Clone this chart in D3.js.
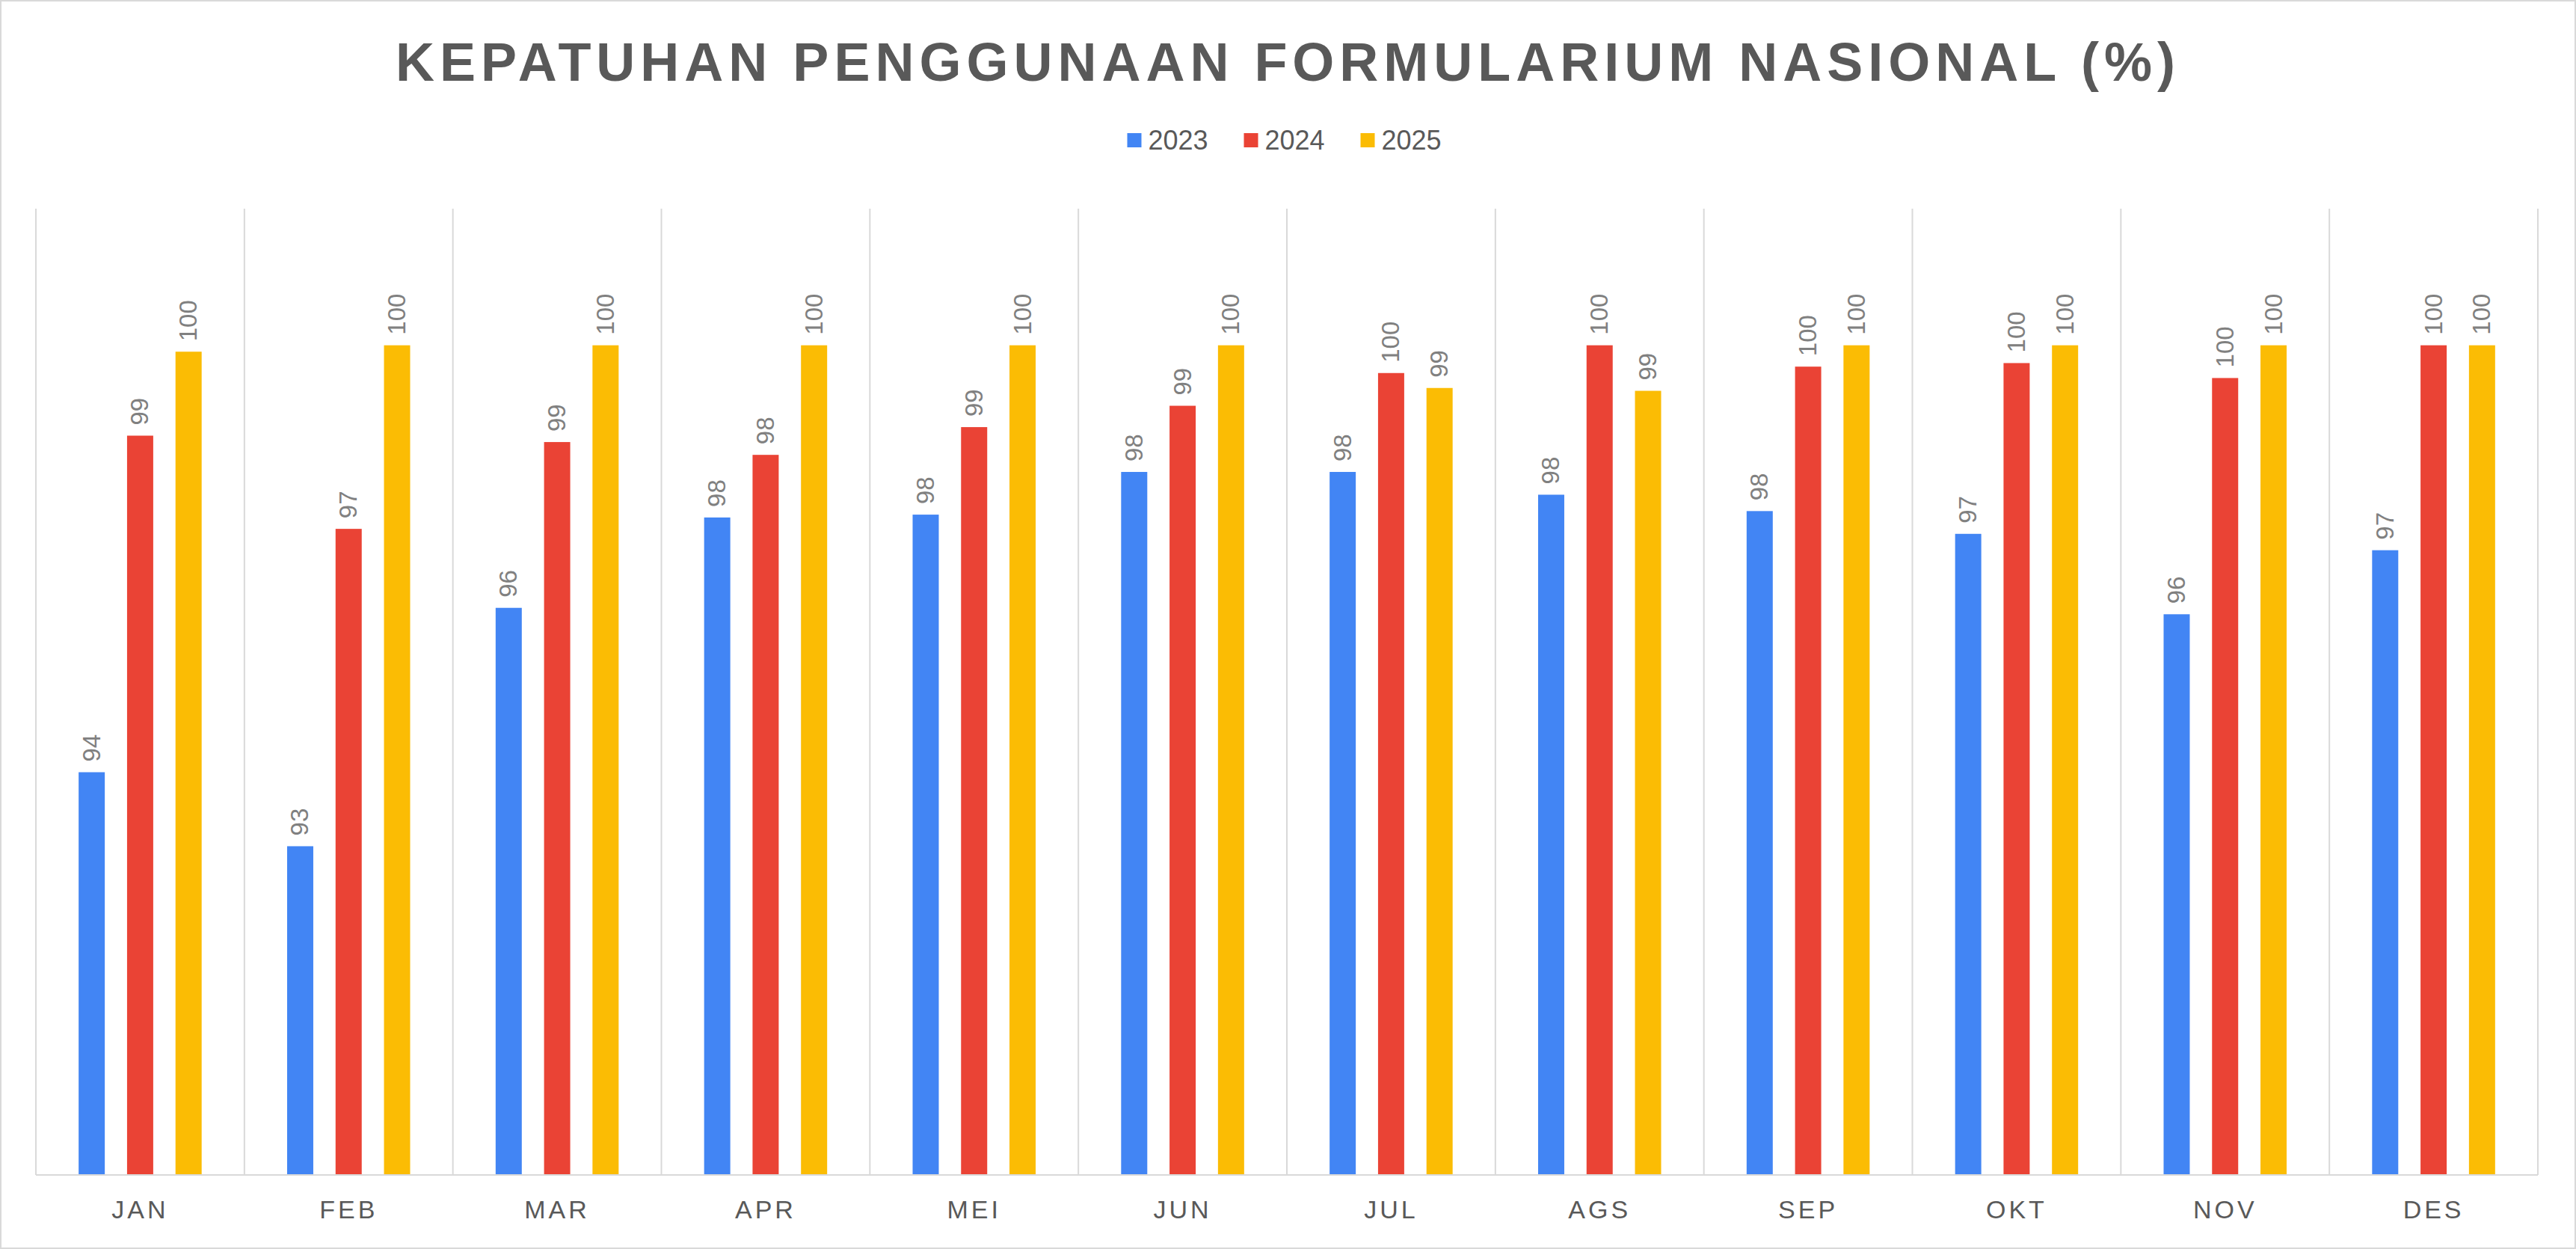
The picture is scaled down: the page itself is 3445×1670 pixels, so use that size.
<!DOCTYPE html>
<html><head><meta charset="utf-8">
<script src="https://cdn.jsdelivr.net/npm/d3@7"></script>
<style>body{margin:0;background:#fff}svg{display:block;font-family:Arial,"Liberation Sans",sans-serif}</style>
</head><body><svg id="chart"></svg>
<script>
const months = ["JAN","FEB","MAR","APR","MEI","JUN","JUL","AGS","SEP","OKT","NOV","DES"];
const years = ["2023","2024","2025"];
const v2023 = [94.0,92.96,96.31,97.58,97.62,98.22,98.22,97.9,97.67,97.35,96.22,97.12];
const v2024 = [98.73,97.42,98.64,98.46,98.85,99.15,99.61,100,99.7,99.75,99.54,100];
const v2025 = [99.91,100,100,100,100,100,99.4,99.36,100,100,100,100];
const colors = ["#4285F4","#EA4335","#FBBC04"];

const W = 3445, H = 1670;
const m = {left: 48, right: 51, top: 279, bottom: 99};
const svg = d3.select("#chart").attr("width", W).attr("height", H);
svg.append("rect").attr("x",1).attr("y",1).attr("width",W-2).attr("height",H-2)
  .attr("fill","#fff").attr("stroke","#d9d9d9").attr("stroke-width",2);

const x = d3.scaleBand().domain(months).range([m.left, W - m.right]);
const xi = d3.scaleBand().domain(years).range([x.bandwidth()*0.205, x.bandwidth()*0.795]).paddingInner(0.46);
const y = d3.scaleLinear().domain([88.34, 101.92]).range([H - m.bottom, m.top]);

// vertical gridlines
svg.append("g").selectAll("line").data(d3.range(months.length + 1)).join("line")
  .attr("x1", i => m.left + i * x.step()).attr("x2", i => m.left + i * x.step())
  .attr("y1", m.top).attr("y2", H - m.bottom)
  .attr("stroke", "#d9d9d9").attr("stroke-width", 2);

const series = [v2023, v2024, v2025];
const data = months.flatMap((mo, i) => years.map((yr, j) => ({mo, yr, j, v: series[j][i]})));

svg.append("g").selectAll("rect").data(data).join("rect")
  .attr("x", d => x(d.mo) + xi(d.yr)).attr("width", xi.bandwidth())
  .attr("y", d => y(d.v)).attr("height", d => y.range()[0] - y(d.v))
  .attr("fill", d => colors[d.j]);

svg.append("g").selectAll("text").data(data).join("text")
  .attr("transform", d => `translate(${x(d.mo) + xi(d.yr) + xi.bandwidth()/2 + 11},${y(d.v) - 14}) rotate(-90)`)
  .attr("font-size", 33).attr("fill", "#808080")
  .text(d => Math.round(d.v));

// baseline
svg.append("line").attr("x1", m.left).attr("x2", W - m.right)
  .attr("y1", H - m.bottom).attr("y2", H - m.bottom).attr("stroke", "#d9d9d9").attr("stroke-width", 2);

const xAxis = svg.append("g").attr("transform", `translate(0,${H - m.bottom})`)
  .call(d3.axisBottom(x).tickSize(0).tickPadding(34));
xAxis.select(".domain").remove();
xAxis.selectAll("text").attr("font-size", 34).attr("fill", "#595959")
  .attr("letter-spacing", 4).attr("font-family", "Arial,'Liberation Sans',sans-serif");

svg.append("text").attr("x", W/2).attr("y", 108).attr("text-anchor", "middle")
  .attr("font-size", 72).attr("font-weight", "bold").attr("fill", "#595959")
  .attr("letter-spacing", 7).text("KEPATUHAN PENGGUNAAN FORMULARIUM NASIONAL (%)");

const lg = svg.append("g").attr("transform", `translate(${W/2 - 215},0)`);
years.forEach((yr, j) => {
  const g = lg.append("g").attr("transform", `translate(${j*156},0)`);
  g.append("rect").attr("x", 0).attr("y", 178).attr("width", 19).attr("height", 19).attr("fill", colors[j]);
  g.append("text").attr("x", 28).attr("y", 200).attr("font-size", 36).attr("fill", "#595959").text(yr);
});
</script></body></html>
